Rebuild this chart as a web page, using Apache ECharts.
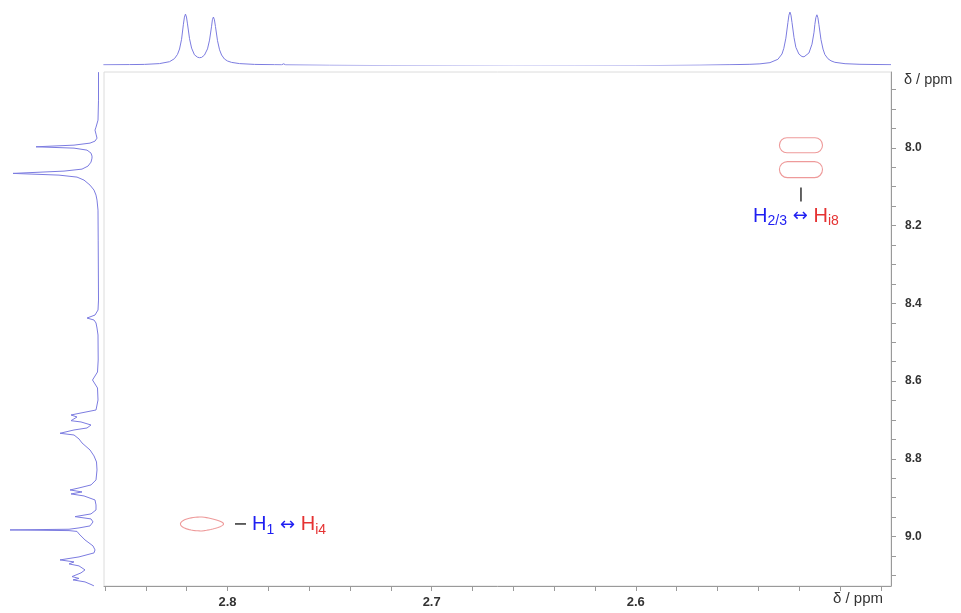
<!DOCTYPE html>
<html>
<head>
<meta charset="utf-8">
<script src="https://cdn.jsdelivr.net/npm/echarts@6/dist/echarts.min.js"></script>
<style>
  html, body { margin: 0; padding: 0; background: #fff; }
  #chart { width: 961px; height: 613px; }
</style>
</head>
<body>
<div id="chart"></div>
<script>
// ---- spectral windows (ppm) ----
const f2Range = [2.475, 2.8605];   // horizontal, aliphatic
const f1Range = [7.805, 9.127];    // vertical, aromatic

// ---- axis ticks ----
const f2Ticks = [2.48, 2.50, 2.52, 2.54, 2.56, 2.58, 2.60, 2.62, 2.64, 2.66,
                 2.68, 2.70, 2.72, 2.74, 2.76, 2.78, 2.80, 2.82, 2.84, 2.86];
const f2TickLabels = [2.6, 2.7, 2.8];
const f1Ticks = [7.85, 7.90, 7.95, 8.00, 8.05, 8.10, 8.15, 8.20, 8.25, 8.30,
                 8.35, 8.40, 8.45, 8.50, 8.55, 8.60, 8.65, 8.70, 8.75, 8.80,
                 8.85, 8.90, 8.95, 9.00, 9.05, 9.10];
const f1TickLabels = [8.0, 8.2, 8.4, 8.6, 8.8, 9.0];

// ---- 1D projection along F2: [ppm, intensity] ----
const f2Projection = [
  [2.8608, 0.2], [2.8480, 0.4], [2.8407, 0.6], [2.8333, 1.4], [2.8284, 3.3],
  [2.8260, 6.3], [2.8245, 10.6], [2.8235, 16.0], [2.8225, 25.7], [2.8216, 40.8],
  [2.8211, 47.9], [2.8206, 50.9], [2.8201, 48.0], [2.8196, 41.1], [2.8186, 26.3],
  [2.8176, 16.9], [2.8162, 10.2], [2.8147, 7.8], [2.8137, 7.3], [2.8127, 7.6],
  [2.8113, 9.9], [2.8098, 16.1], [2.8088, 24.9], [2.8078, 38.8], [2.8074, 45.3],
  [2.8069, 48.0], [2.8064, 45.1], [2.8059, 38.5], [2.8049, 24.3], [2.8039, 15.2],
  [2.8029, 10.0], [2.8015, 6.0], [2.8000, 4.0], [2.7980, 2.6], [2.7941, 1.4],
  [2.7868, 0.6], [2.7770, 0.3], [2.7735, 0.2], [2.7725, 1.2], [2.7715, 0.1],
  [2.7500, -0.3], [2.7200, -0.6], [2.6900, -0.8], [2.6600, -1.0], [2.6300, -0.9],
  [2.6000, -0.7], [2.5686, -0.2], [2.5539, 0.3], [2.5441, 0.7], [2.5392, 1.15],
  [2.5343, 2.35], [2.5304, 5.7], [2.5284, 11.0], [2.5275, 16.7], [2.5265, 26.8],
  [2.5255, 42.4], [2.5250, 49.8], [2.5245, 52.9], [2.5240, 49.9], [2.5235, 42.6],
  [2.5225, 27.4], [2.5216, 17.7], [2.5201, 10.9], [2.5186, 8.45], [2.5176, 8.2],
  [2.5167, 8.8], [2.5152, 12.0], [2.5137, 20.8], [2.5127, 32.8], [2.5123, 40.5],
  [2.5118, 47.4], [2.5113, 50.2], [2.5108, 47.2], [2.5103, 40.3], [2.5093, 25.4],
  [2.5083, 15.9], [2.5074, 10.5], [2.5059, 6.3], [2.5044, 4.2], [2.5025, 2.7],
  [2.4975, 1.3], [2.4902, 0.7], [2.4750, 0.3]
];

// ---- 1D projection along F1: [ppm, intensity] ----
const f1Projection = [
  [7.8054, 0.5], [7.8774, 0.5], [7.9288, 1.0], [7.9468, 3], [7.9545, 4],
  [7.9648, 3], [7.9751, 2], [7.9828, 4], [7.9879, 9], [7.9931, 25],
  [7.9974, 63], [8.0008, 25], [8.0059, 12], [8.0136, 8], [8.0213, 7],
  [8.0265, 7], [8.0368, 8], [8.0470, 11], [8.0548, 17], [8.0599, 35],
  [8.0658, 86], [8.0702, 40], [8.0753, 22], [8.0830, 15], [8.0959, 9],
  [8.1087, 5], [8.1216, 3], [8.1345, 2], [8.1602, 1], [8.2373, 0.8],
  [8.3915, 0.5], [8.4172, 1], [8.4301, 4], [8.4378, 12], [8.4429, 5],
  [8.4506, 3], [8.4635, 2], [8.4815, 1], [8.5458, 0.8], [8.5766, 1.5],
  [8.5869, 4], [8.5972, 6.5], [8.6074, 4], [8.6177, 1.5], [8.6486, 1],
  [8.6743, 3], [8.6820, 18], [8.6871, 28], [8.6923, 22], [8.6974, 24],
  [8.7018, 28], [8.7051, 18], [8.7129, 8], [8.7206, 12], [8.7257, 25],
  [8.7342, 39], [8.7386, 25], [8.7437, 24], [8.7488, 20], [8.7591, 17],
  [8.7771, 9], [8.7925, 5], [8.8080, 2.5], [8.8285, 2], [8.8542, 3],
  [8.8671, 8], [8.8748, 20], [8.8800, 29], [8.8851, 17], [8.8902, 28],
  [8.8954, 15], [8.9057, 4], [8.9185, 3], [8.9314, 3], [8.9416, 8],
  [8.9486, 24], [8.9545, 8], [8.9622, 6], [8.9725, 9], [8.9776, 20],
  [8.9810, 30], [8.9828, 89], [8.9845, 30], [8.9866, 22], [8.9931, 20],
  [9.0085, 14], [9.0239, 6], [9.0342, 4], [9.0419, 5], [9.0522, 20],
  [9.0599, 39], [9.0650, 25], [9.0702, 30], [9.0753, 20], [9.0856, 14],
  [9.0933, 18], [9.1028, 27], [9.1075, 20], [9.1113, 26], [9.1165, 14],
  [9.1242, 7], [9.1270, 5]
];

// ---- cross peaks: [δF2, δF1, extent F2, extent F1] ----
const crossPeaks = [
  [2.8125, 8.9674, 0.0211, 0.0360],
  [2.5191, 7.9935, 0.0211, 0.0386],
  [2.5191, 8.0560, 0.0211, 0.0411]
];

// ---- assignments: which cross peak, proton pair ----
const assignmentPeak = [0, 2];
const assignmentFrom = ['1', '2/3'];
const assignmentTo = ['i4', 'i8'];

// ---- styling ----
const peakOutline = ['tear', 'capsule', 'capsule'];
const assignmentPlacement = ['right', 'below'];
const SPEC_COLOR = '#7c7ce0';
const CONTOUR_COLOR = '#ee9a9a';
const BLUE = '#1f1ff2';
const RED = '#e53232';
const NARROW = '"Liberation Sans Narrow", "Liberation Sans", Arial, sans-serif';
const SANS = '"Liberation Sans", Arial, sans-serif';

const chart = echarts.init(document.getElementById('chart'), null, { renderer: 'canvas' });

function drawPeak(params, api) {
  const c = api.coord([api.value(0), api.value(1)]);
  const s = api.size([api.value(2), api.value(3)]);
  const w = Math.abs(s[0]), h = Math.abs(s[1]);
  const style = { fill: 'none', stroke: CONTOUR_COLOR, lineWidth: 1.1 };
  if (peakOutline[params.dataIndex] === 'capsule') {
    return { type: 'rect', shape: { x: c[0] - w / 2, y: c[1] - h / 2, width: w, height: h, r: h / 2 }, style };
  }
  const pts = [];
  for (let i = 0; i < 60; i++) {
    const a = i / 60 * Math.PI * 2;
    const k = 1 - 0.35 * Math.max(0, Math.cos(a));
    pts.push([c[0] + w / 2 * Math.cos(a), c[1] + h / 2 * Math.sin(a) * k]);
  }
  return { type: 'polygon', shape: { points: pts }, style };
}

const richStyles = {
  b:  { fill: BLUE, fontSize: 20, lineHeight: 24, fontFamily: NARROW, verticalAlign: 'middle' },
  bs: { fill: BLUE, fontSize: 14, lineHeight: 11, fontFamily: NARROW, verticalAlign: 'bottom' },
  ar: { fill: BLUE, fontSize: 18, lineHeight: 24, fontFamily: '"DejaVu Sans", sans-serif', verticalAlign: 'middle' },
  r:  { fill: RED, fontSize: 20, lineHeight: 24, fontFamily: NARROW, verticalAlign: 'middle' },
  rs: { fill: RED, fontSize: 14, lineHeight: 11, fontFamily: NARROW, verticalAlign: 'bottom' }
};

function drawAssignment(params, api) {
  const i = params.dataIndex;
  const c = api.coord([api.value(0), api.value(1)]);
  const text = '{b|H}{bs|' + assignmentFrom[i] + '}{ar| \u2194 }{r|H}{rs|' + assignmentTo[i] + '}';
  const lineStyle = { stroke: '#222', lineWidth: 1.4 };
  if (assignmentPlacement[i] === 'right') {
    return {
      type: 'group',
      children: [
        { type: 'line', shape: { x1: c[0] + 33, y1: c[1], x2: c[0] + 44, y2: c[1] }, style: lineStyle },
        { type: 'text', x: c[0] + 50, y: c[1] + 1,
          style: { text, rich: richStyles, align: 'left', verticalAlign: 'middle' } }
      ]
    };
  }
  return {
    type: 'group',
    children: [
      { type: 'line', shape: { x1: c[0], y1: c[1] + 18, x2: c[0], y2: c[1] + 32 }, style: lineStyle },
      { type: 'text', x: c[0] - 5, y: c[1] + 47,
        style: { text, rich: richStyles, align: 'center', verticalAlign: 'middle' } }
    ]
  };
}

const option = {
  backgroundColor: '#fff',
  animation: false,
  grid: [
    { left: 104, top: 72, width: 787, height: 514, show: true, borderColor: '#dcdcdc', borderWidth: 1 },
    { left: 104, top: 8, width: 787, height: 57 },
    { left: 0, top: 72, width: 99, height: 514 }
  ],
  xAxis: [
    {
      gridIndex: 0, type: 'value', min: f2Range[0], max: f2Range[1], inverse: true,
      axisLine: { show: true, onZero: false, lineStyle: { color: '#9a9a9a', width: 1 } },
      axisTick: { show: true, customValues: f2Ticks, length: 5, lineStyle: { color: '#9a9a9a' } },
      axisLabel: {
        show: true, customValues: f2TickLabels, margin: 10,
        formatter: v => Number(v).toFixed(1),
        color: '#333', fontSize: 13, fontWeight: 'bold', fontFamily: NARROW
      },
      splitLine: { show: false }
    },
    { gridIndex: 1, type: 'value', min: f2Range[0], max: f2Range[1], inverse: true, show: false },
    { gridIndex: 2, type: 'value', min: 0, max: 99, inverse: true, show: false }
  ],
  yAxis: [
    {
      gridIndex: 0, type: 'value', position: 'right', min: f1Range[0], max: f1Range[1], inverse: true,
      axisLine: { show: true, onZero: false, lineStyle: { color: '#9a9a9a', width: 1 } },
      axisTick: { show: true, customValues: f1Ticks, length: 5, lineStyle: { color: '#9a9a9a' } },
      axisLabel: {
        show: true, customValues: f1TickLabels, margin: 14,
        formatter: v => Number(v).toFixed(1),
        color: '#333', fontSize: 12, fontWeight: 'bold', fontFamily: SANS
      },
      splitLine: { show: false }
    },
    { gridIndex: 1, type: 'value', min: 0, max: 57, show: false },
    { gridIndex: 2, type: 'value', min: f1Range[0], max: f1Range[1], inverse: true, show: false }
  ],
  graphic: [
    { type: 'text', left: 904, top: 72,
      style: { text: '\u03b4 / ppm', fill: '#333', fontSize: 14.5, fontFamily: SANS } },
    { type: 'text', left: 833, top: 591,
      style: { text: '\u03b4 / ppm', fill: '#333', fontSize: 15, fontFamily: NARROW } }
  ],
  series: [
    {
      name: 'F2 projection', type: 'line', xAxisIndex: 1, yAxisIndex: 1,
      data: f2Projection, showSymbol: false, smooth: false,
      lineStyle: { color: SPEC_COLOR, width: 1 }, silent: true
    },
    {
      name: 'F1 projection', type: 'line', xAxisIndex: 2, yAxisIndex: 2,
      data: f1Projection.map(p => [p[1], p[0]]), showSymbol: false, smooth: false,
      lineStyle: { color: SPEC_COLOR, width: 1 }, silent: true
    },
    {
      name: 'cross peaks', type: 'custom', xAxisIndex: 0, yAxisIndex: 0,
      data: crossPeaks, renderItem: drawPeak, silent: true
    },
    {
      name: 'assignments', type: 'custom', xAxisIndex: 0, yAxisIndex: 0,
      data: assignmentPeak.map(k => crossPeaks[k].slice(0, 2)),
      renderItem: drawAssignment, silent: true
    }
  ]
};

chart.setOption(option);
</script>
</body>
</html>
